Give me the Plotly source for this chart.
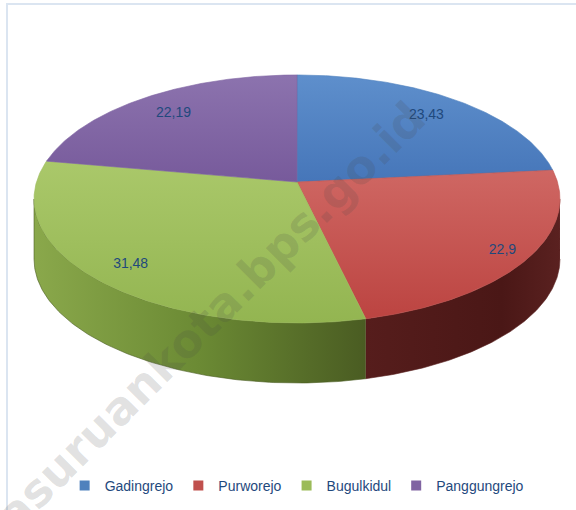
import numpy as np
import plotly.graph_objects as go

# ---------------- data ----------------
categories = ["Gadingrejo", "Purworejo", "Bugulkidul", "Panggungrejo"]
values = [23.43, 22.9, 31.48, 22.19]
value_labels = ["23,43", "22,9", "31,48", "22,19"]

# ---------------- style ----------------
W, H = 576, 510
CX, CY = 297.0, 182.0          # projected centre of the top face
RX, RY = 260.5, 121.7          # radii of the top face
K = 0.137                      # perspective strength
DEPTH = 60.0                   # thickness of the pie (px)
LABEL_R = [0.80, 0.90, 0.85, 0.80]

base_colors = ["#4F81BD", "#C0504D", "#9BBB59", "#8064A2"]
# colorscale index 0 = bottom of the face, 1 = top of the face
top_scales = [
    [[0, "#4676b9"], [1, "#5e8fcc"]],
    [[0, "#bc4441"], [1, "#cf6763"]],
    [[0, "#93b551"], [1, "#aac86a"]],
    [[0, "#775a9b"], [1, "#8c73ae"]],
]
wall_scales = [
    [[0, "#3a5f8f"], [1, "#2a466b"]],
    [[0, "#561d1c"], [0.7, "#4a1716"], [1, "#5a2120"]],
    [[0, "#8aa84b"], [0.5, "#6b8a34"], [1, "#4a5c22"]],
    [[0, "#5e4a7a"], [1, "#43345a"]],
]
LABEL_COLOR = "#1F497D"
FONT = "Liberation Sans"


def proj(theta, r=1.0):
    u = r * np.sin(theta)
    v = r * np.cos(theta)
    s = 1.0 / (1.0 + K * v)
    return CX + RX * u * s, CY - RY * v * s


fracs = np.array(values) / np.sum(values)
ends = np.cumsum(fracs) * 2 * np.pi
starts = ends - fracs * 2 * np.pi

fig = go.Figure()

# side walls (front half only, between the silhouette angles)
sil_r = np.arccos(-K)
sil_l = 2 * np.pi - sil_r
for i in range(len(values)):
    lo = max(starts[i], sil_r)
    hi = min(ends[i], sil_l)
    if hi <= lo:
        continue
    th = np.linspace(lo, hi, 120)
    xt, yt = proj(th)
    xs = np.concatenate([xt, xt[::-1]])
    ys = np.concatenate([yt, (yt + DEPTH)[::-1]])
    fig.add_trace(go.Scatter(
        x=xs, y=ys, mode="lines", fill="toself",
        line=dict(width=0.6, color=wall_scales[i][-1][1]),
        fillgradient=dict(type="horizontal", colorscale=wall_scales[i]),
        hoverinfo="skip", showlegend=False))

# top faces
for i in range(len(values)):
    th = np.linspace(starts[i], ends[i], 200)
    xt, yt = proj(th)
    xs = np.concatenate([[CX], xt, [CX]])
    ys = np.concatenate([[CY], yt, [CY]])
    fig.add_trace(go.Scatter(
        x=xs, y=ys, mode="lines", fill="toself",
        line=dict(width=0.6, color=base_colors[i]),
        fillgradient=dict(type="vertical", colorscale=top_scales[i]),
        name=categories[i], hoverinfo="skip", showlegend=False))

# watermark (under the labels)
fig.add_annotation(
    x=199, y=328, xref="x", yref="y", showarrow=False,
    text="<b>pasuruankota.bps.go.id</b>", textangle=-45,
    font=dict(family="DejaVu Sans", size=46, color="rgba(70,70,70,0.16)"))

# value labels
mids = (starts + ends) / 2
lx, ly = [], []
for i, m in enumerate(mids):
    x, y = proj(m, LABEL_R[i])
    lx.append(x)
    ly.append(y)
fig.add_trace(go.Scatter(
    x=lx, y=ly, mode="text", text=value_labels,
    textfont=dict(family=FONT, size=14, color=LABEL_COLOR),
    textposition="middle center", hoverinfo="skip", showlegend=False))

# legend entries
for i, c in enumerate(categories):
    fig.add_trace(go.Scatter(
        x=[None], y=[None], mode="markers", name=c,
        marker=dict(symbol="square", size=10, color=base_colors[i]),
        showlegend=True))

# frame lines
fig.add_shape(type="line", x0=6, x1=W, y0=4, y1=4, xref="x", yref="y",
              line=dict(color="#dbe5f1", width=2))
fig.add_shape(type="line", x0=7, x1=7, y0=4, y1=H, xref="x", yref="y",
              line=dict(color="#dbe5f1", width=2))

fig.update_layout(
    width=W, height=H,
    margin=dict(l=0, r=0, t=0, b=0),
    paper_bgcolor="white", plot_bgcolor="white",
    xaxis=dict(range=[0, W], visible=False, fixedrange=True),
    yaxis=dict(range=[H, 0], visible=False, fixedrange=True),
    legend=dict(orientation="h", x=0.515, xanchor="center",
                y=1 - 486 / H, yanchor="middle",
                font=dict(family=FONT, size=14, color=LABEL_COLOR),
                itemwidth=30, bgcolor="rgba(0,0,0,0)"),
    showlegend=True,
)

fig.write_html("out.html", config={"displayModeBar": False},
               post_script="document.body.style.margin='0';")
